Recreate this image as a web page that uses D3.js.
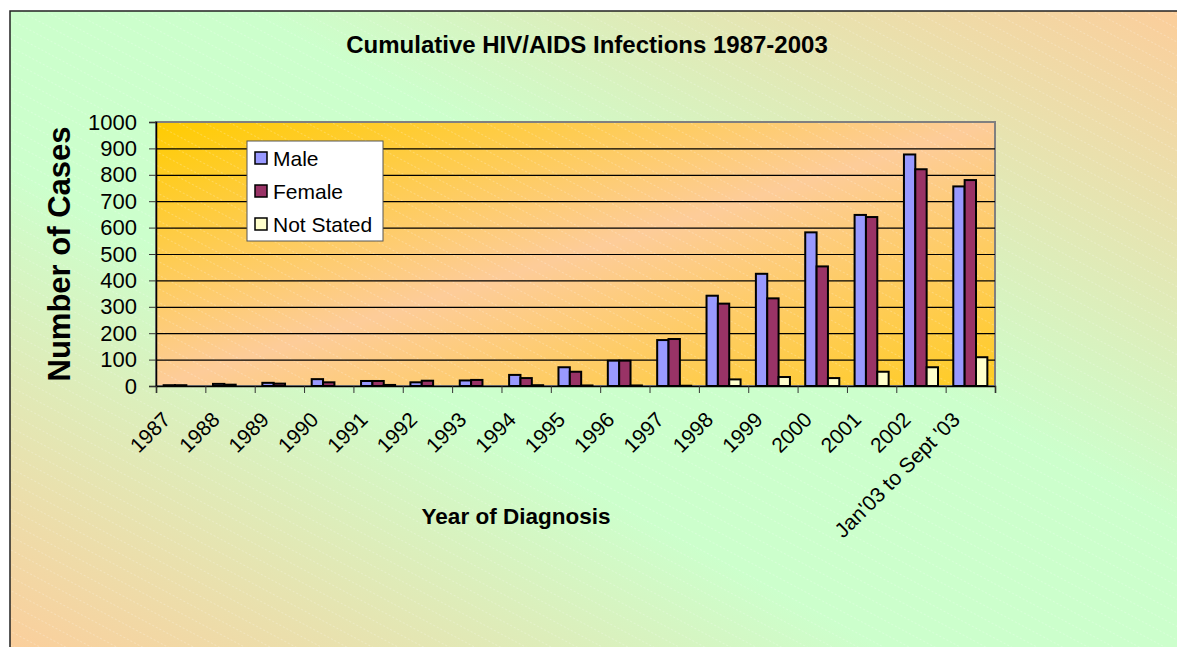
<!DOCTYPE html>
<html>
<head>
<meta charset="utf-8">
<script src="https://cdn.jsdelivr.net/npm/d3@7"></script>
<style>
  body { margin: 0; background: #fff; }
  svg { display: block; font-family: Arial, 'Liberation Sans', sans-serif; }
</style>
</head>
<body>
<div id="chart"></div>
<script>
const categories = ['1987', '1988', '1989', '1990', '1991', '1992', '1993', '1994', '1995',
  '1996', '1997', '1998', '1999', '2000', '2001', '2002', "Jan'03 to Sept '03"];
const male      = [3, 8, 12, 26, 19, 14, 21, 42, 71, 96, 174, 342, 425, 582, 648, 877, 756];
const female    = [3, 5, 9, 14, 19, 20, 23, 30, 54, 96, 178, 312, 332, 453, 640, 821, 780];
const notStated = [0, 0, 0, 0, 4, 0, 0, 3, 2, 2, 1, 25, 34, 30, 54, 71, 109];
const seriesNames = ['Male', 'Female', 'Not Stated'];
const yTicks = [0, 100, 200, 300, 400, 500, 600, 700, 800, 900, 1000];

const w = 1177, h = 647;
const plot = { left: 156, top: 122, right: 995, bottom: 386 };
const colors = ['#9999ff', '#993366', '#ffffcc'];
const font = "Arial, 'Liberation Sans', sans-serif";

const rows = categories.map((c, i) => ({ cat: c, vals: [male[i], female[i], notStated[i]] }));

const svg = d3.select('#chart').append('svg')
  .attr('width', w)
  .attr('height', h);

const defs = svg.append('defs');

// outer background: green along the main diagonal, peach in the other corners
const bg = defs.append('linearGradient').attr('id', 'bgGrad')
  .attr('x1', 0).attr('y1', 1).attr('x2', 1).attr('y2', 0);
bg.append('stop').attr('offset', '0%').attr('stop-color', '#fdcc99');
bg.append('stop').attr('offset', '38%').attr('stop-color', '#ccffcc');
bg.append('stop').attr('offset', '60%').attr('stop-color', '#ccffcc');
bg.append('stop').attr('offset', '100%').attr('stop-color', '#fdcc99');

// plot area: gold in top-left / bottom-right, peach in the middle
const pg = defs.append('linearGradient').attr('id', 'plotGrad')
  .attr('x1', 0).attr('y1', 0).attr('x2', 1).attr('y2', 1);
pg.append('stop').attr('offset', '0%').attr('stop-color', '#ffcc00');
pg.append('stop').attr('offset', '50%').attr('stop-color', '#fdcc99');
pg.append('stop').attr('offset', '100%').attr('stop-color', '#ffcc22');

// faint diagonal hatch
const pat = defs.append('pattern').attr('id', 'hatch')
  .attr('patternUnits', 'userSpaceOnUse')
  .attr('width', 12).attr('height', 12)
  .attr('patternTransform', 'rotate(28)');
pat.append('line')
  .attr('x1', 0).attr('y1', 0).attr('x2', 12).attr('y2', 0)
  .attr('stroke', '#fff').attr('stroke-width', 1)
  .attr('stroke-dasharray', '2,2')
  .attr('opacity', 0.45);

svg.append('rect')
  .attr('x', 10).attr('y', 11).attr('width', 1200).attr('height', 660)
  .attr('fill', 'url(#bgGrad)');
svg.append('rect')
  .attr('x', 10).attr('y', 11).attr('width', 1200).attr('height', 660)
  .attr('fill', 'url(#hatch)')
  .attr('stroke', '#222').attr('stroke-width', 1.5);

// scales
const x0 = d3.scaleBand()
  .domain(categories)
  .range([plot.left, plot.right])
  .paddingInner(0.31)
  .paddingOuter(0.155);

const x1 = d3.scaleBand()
  .domain(d3.range(seriesNames.length))
  .range([0, x0.bandwidth()]);

const xEdge = d3.scaleLinear()
  .domain([0, categories.length])
  .range([plot.left, plot.right]);

const y = d3.scaleLinear()
  .domain([0, 1000])
  .range([plot.bottom, plot.top]);

// plot area
svg.append('rect')
  .attr('x', plot.left).attr('y', plot.top)
  .attr('width', plot.right - plot.left).attr('height', plot.bottom - plot.top)
  .attr('fill', 'url(#plotGrad)');
svg.append('rect')
  .attr('x', plot.left).attr('y', plot.top)
  .attr('width', plot.right - plot.left).attr('height', plot.bottom - plot.top)
  .attr('fill', 'url(#hatch)')
  .attr('stroke', '#808080').attr('stroke-width', 2);

// gridlines
svg.append('g')
  .attr('transform', `translate(${plot.left},0)`)
  .call(d3.axisLeft(y).tickValues(yTicks.slice(1, -1)).tickSize(-(plot.right - plot.left)).tickFormat(''))
  .call(g => g.select('.domain').remove())
  .call(g => g.selectAll('line').attr('stroke', '#000').attr('stroke-width', 1.2));

// bars
svg.append('g')
  .selectAll('g')
  .data(rows)
  .join('g')
  .attr('transform', d => `translate(${x0(d.cat)},0)`)
  .selectAll('rect')
  .data(d => d.vals)
  .join('rect')
  .attr('x', (d, i) => x1(i))
  .attr('y', d => y(d))
  .attr('width', x1.bandwidth())
  .attr('height', d => y(0) - y(d))
  .attr('fill', (d, i) => colors[i])
  .attr('stroke', '#000')
  .attr('stroke-width', 2);

// y axis
svg.append('g')
  .attr('transform', `translate(${plot.left},0)`)
  .call(d3.axisLeft(y).tickValues(yTicks).tickSize(7).tickPadding(12).tickFormat(d3.format('d')))
  .call(g => g.select('.domain').attr('stroke', '#000').attr('stroke-width', 1.5))
  .call(g => g.selectAll('line').attr('stroke', '#333'))
  .call(g => g.selectAll('text')
    .attr('font-family', font)
    .attr('font-size', 22).attr('fill', '#000'));

// x axis: ticks between categories
svg.append('g')
  .attr('transform', `translate(0,${plot.bottom})`)
  .call(d3.axisBottom(xEdge).tickValues(d3.range(categories.length + 1)).tickSize(7).tickFormat(''))
  .call(g => g.select('.domain').attr('stroke', '#000').attr('stroke-width', 1.5))
  .call(g => g.selectAll('line').attr('stroke', '#333'));

// x labels
svg.append('g')
  .attr('transform', `translate(0,${plot.bottom})`)
  .call(d3.axisBottom(x0).tickSize(0).tickPadding(0))
  .call(g => g.select('.domain').remove())
  .call(g => g.selectAll('text')
    .attr('font-family', font)
    .attr('font-size', 21).attr('fill', '#000')
    .attr('text-anchor', 'end')
    .attr('dy', 0)
    .attr('transform', 'translate(-9,35) rotate(-45)'));

// titles
svg.append('text')
  .attr('x', 587).attr('y', 53)
  .attr('text-anchor', 'middle')
  .attr('font-size', 24).attr('font-weight', 'bold')
  .text('Cumulative HIV/AIDS Infections 1987-2003');

svg.append('text')
  .attr('x', 516).attr('y', 524)
  .attr('text-anchor', 'middle')
  .attr('font-size', 22.5).attr('font-weight', 'bold')
  .text('Year of Diagnosis');

svg.append('text')
  .attr('transform', 'translate(70,254) rotate(-90)')
  .attr('text-anchor', 'middle')
  .attr('font-size', 31).attr('font-weight', 'bold')
  .text('Number of Cases');

// legend
const legend = svg.append('g').attr('transform', 'translate(247,141)');
legend.append('rect')
  .attr('width', 136).attr('height', 100)
  .attr('fill', '#fff').attr('stroke', '#555').attr('stroke-width', 1);
const item = legend.selectAll('g.item')
  .data(seriesNames)
  .join('g')
  .attr('class', 'item')
  .attr('transform', (d, i) => `translate(8,${17 + i * 33})`);
item.append('rect')
  .attr('x', 0).attr('y', -6).attr('width', 12).attr('height', 12)
  .attr('fill', (d, i) => colors[i])
  .attr('stroke', '#000').attr('stroke-width', 1.5);
item.append('text')
  .attr('x', 18).attr('y', 7.5)
  .attr('font-size', 21)
  .text(d => d);
</script>
</body>
</html>
